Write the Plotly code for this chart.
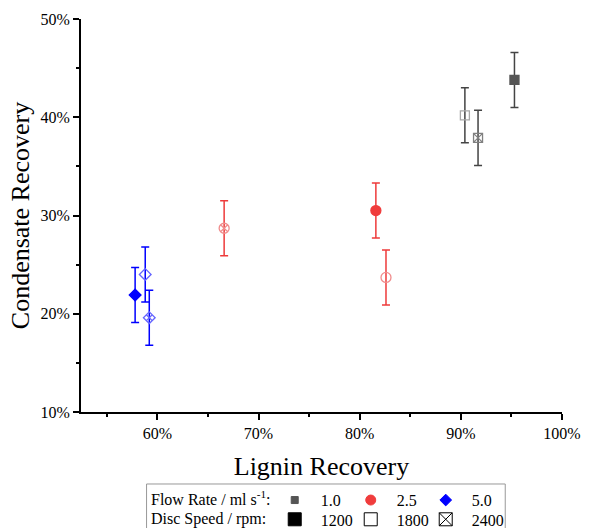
import plotly.graph_objects as go

# ---- data (percent) ----
flow_rates = ["1.0", "2.5", "5.0"]
disc_speeds = ["1200", "1800", "2400"]

# lignin recovery (x), condensate recovery (y), error (y) per flow rate, ordered by disc speed
lignin_f10 = [95.3, 90.4, 91.7]
cond_f10 = [43.8, 40.2, 37.9]
err_f10 = [2.8, 2.8, 2.8]

lignin_f25 = [81.6, 82.6, 66.6]
cond_f25 = [30.5, 23.7, 28.7]
err_f25 = [2.8, 2.8, 2.8]

lignin_f50 = [57.8, 58.8, 59.2]
cond_f50 = [21.9, 24.0, 19.6]
err_f50 = [2.8, 2.8, 2.8]

x_ticks = [60, 70, 80, 90, 100]
y_ticks = [10, 20, 30, 40, 50]
x_ticktext = [f"{v}%" for v in x_ticks]
y_ticktext = [f"{v}%" for v in y_ticks]

FONT = "Liberation Serif"

fig = go.Figure()

series = [
    (lignin_f10, cond_f10, err_f10, "#444444",
     [("square", "#555555", 9), ("square-open", "#a8a8a8", 9), ("square-x-open", "#808080", 9)]),
    (lignin_f25, cond_f25, err_f25, "#ee3b3b",
     [("circle", "#f03c3c", 10), ("circle-open", "#f08c8c", 10), ("circle-x-open", "#f08c8c", 10)]),
    (lignin_f50, cond_f50, err_f50, "#0000ff",
     [("diamond", "#0000ff", 9), ("diamond-open", "#6666ff", 9), ("diamond-x-open", "#6666ff", 9)]),
]

for xs, ys, es, ecol, styles in series:
    for i in range(len(xs)):
        sym, col, sz = styles[i]
        fig.add_trace(go.Scatter(
            x=[xs[i]], y=[ys[i]], mode="markers", showlegend=False,
            error_y=dict(type="data", array=[es[i]], visible=True,
                         color=ecol, thickness=1.5, width=4),
            marker=dict(symbol=sym, color=col, size=sz,
                        line=dict(color=col, width=1.3)),
        ))

# legend-only entries, one small legend per entry (2 rows x 3 columns)
legend_items = [
    (flow_rates[0], "square", "#555555", 7),
    (flow_rates[1], "circle", "#f03c3c", 10),
    (flow_rates[2], "diamond", "#0000ff", 9),
    (disc_speeds[0], "square", "#000000", 13),
    (disc_speeds[1], "square-open", "#000000", 13),
    (disc_speeds[2], "square-x-open", "#000000", 13),
]
legend_ids = ["legend", "legend2", "legend3", "legend4", "legend5", "legend6"]
for lg, (name, sym, col, sz) in zip(legend_ids, legend_items):
    fig.add_trace(go.Scatter(
        x=[None], y=[None], mode="markers", name=name, legend=lg,
        showlegend=True,
        marker=dict(symbol=sym, color=col, size=sz, line=dict(color=col, width=1)),
    ))

axis_common = dict(
    showline=True, linewidth=2, linecolor="black", mirror=False,
    ticks="outside", tickwidth=2, tickcolor="black", ticklen=6,
    showgrid=False, zeroline=False,
    tickfont=dict(family=FONT, size=16, color="black"),
    minor=dict(ticks="outside", ticklen=3, tickwidth=2, tickcolor="black", dtick=5, showgrid=False),
)

legend_common = dict(
    orientation="h", xanchor="left", yanchor="top",
    font=dict(family=FONT, size=16, color="black"),
    bgcolor="rgba(0,0,0,0)", borderwidth=0, itemsizing="trace",
    itemwidth=42,
)
col_x = [0.3903, 0.5483, 0.7042]
row_y = [-0.181, -0.230]
legend_layout = {}
k = 0
for r in range(2):
    for c in range(3):
        legend_layout[legend_ids[k]] = dict(x=col_x[c], y=row_y[r], **legend_common)
        k += 1

fig.update_layout(
    width=590, height=528,
    margin=dict(l=81, r=28, t=19, b=116, autoexpand=False),
    paper_bgcolor="white", plot_bgcolor="white",
    font=dict(family=FONT, color="black"),
    xaxis=dict(range=[52.45, 100], tickmode="array", tickvals=x_ticks, ticktext=x_ticktext, **axis_common,
               title=dict(text="Lignin Recovery", font=dict(family=FONT, size=26), standoff=16)),
    yaxis=dict(range=[10, 50], tickmode="array", tickvals=y_ticks, ticktext=y_ticktext, **axis_common,
               title=dict(text="Condensate Recovery", font=dict(family=FONT, size=26), standoff=3)),
    showlegend=True,
    **legend_layout,
    shapes=[dict(type="rect", xref="paper", yref="paper",
                 x0=0.1363, x1=0.882, y0=-0.1832, y1=-0.4,
                 line=dict(color="#999999", width=1), fillcolor="rgba(0,0,0,0)")],
    annotations=[
        dict(text="Flow Rate / ml s<sup>-1</sup>:", xref="paper", yref="paper",
             x=0.1415, y=-0.2188, xanchor="left", yanchor="middle", showarrow=False,
             font=dict(family=FONT, size=16, color="black")),
        dict(text="Disc Speed / rpm:", xref="paper", yref="paper",
             x=0.1415, y=-0.2723, xanchor="left", yanchor="middle", showarrow=False,
             font=dict(family=FONT, size=16, color="black")),
    ],
)

fig.write_html("out.html")
